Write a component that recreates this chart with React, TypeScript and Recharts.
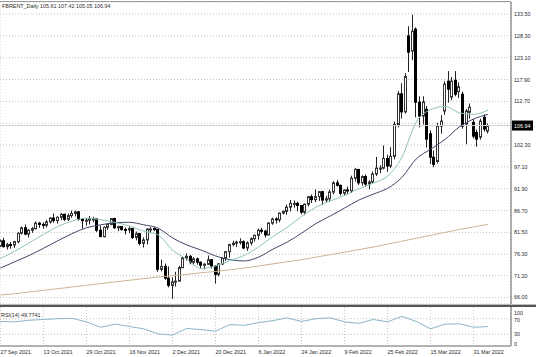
import React from "react";
import { ComposedChart, Bar, Line, XAxis, YAxis, CartesianGrid, ReferenceLine } from "recharts";

const symbol = "FBRENT_Daily";

// x axis labels (bar index -> date)
const dateTicks = [0, 12, 24, 36, 48, 60, 72, 84, 96, 108, 120, 132];
const dateLabels = [
  "27 Sep 2021", "13 Oct 2021", "29 Oct 2021", "16 Nov 2021", "2 Dec 2021", "20 Dec 2021",
  "6 Jan 2022", "24 Jan 2022", "9 Feb 2022", "25 Feb 2022", "15 Mar 2022", "31 Mar 2022",
];

// daily candles, 27 Sep 2021 .. 6 Apr 2022
const opens = [
  78.3, 79.5, 78.1, 78.6, 78.5, 79.3, 81.3, 82.6, 81.1, 82.0, 82.4, 83.7, 83.4, 83.2, 84.0, 84.9, 84.3, 85.1, 85.8, 84.6,
  85.5, 86.0, 86.4, 84.6, 84.3, 84.4, 84.5, 84.7, 82.0, 80.5, 82.7, 83.4, 84.8, 82.6, 82.9, 82.2, 82.1, 82.4, 80.3, 81.2,
  78.9, 79.7, 82.1, 82.4, 82.2, 72.7, 73.4, 70.6, 68.9, 69.7, 69.9, 73.1, 75.4, 75.8, 74.4, 75.2, 74.4, 73.7, 73.9, 75.0,
  73.5, 71.5, 74.0, 75.3, 76.9, 78.6, 78.9, 79.2, 79.3, 77.8, 79.0, 80.0, 80.8, 82.0, 81.8, 80.9, 83.7, 84.7, 84.5, 86.1,
  86.5, 87.5, 88.2, 88.4, 87.9, 86.3, 88.2, 90.0, 89.3, 90.0, 91.2, 89.2, 89.5, 91.1, 93.3, 92.7, 90.8, 91.6, 91.4, 94.4,
  96.5, 93.3, 94.8, 93.0, 93.5, 95.4, 96.6, 96.8, 99.1, 97.3, 99.6, 107.2, 114.5, 110.2, 128.3, 124.7, 129.9, 112.5, 109.2, 110.8,
  105.0, 99.4, 98.4, 106.8, 110.4, 117.5, 113.7, 117.7, 115.0, 114.4, 107.3, 110.1, 107.7, 105.3, 104.2, 108.9, 105.61,
];
const highs = [
  79.8, 80.2, 79.0, 79.2, 79.5, 81.5, 82.9, 83.4, 82.3, 82.8, 84.1, 84.0, 83.9, 84.5, 85.1, 86.0, 85.3, 86.1, 86.0, 86.0,
  86.7, 86.7, 86.5, 84.9, 84.9, 85.4, 85.2, 84.9, 83.1, 82.9, 83.6, 84.9, 85.0, 83.1, 83.0, 82.7, 82.9, 82.5, 81.7, 81.4,
  80.3, 82.5, 82.7, 82.7, 82.3, 75.0, 74.1, 73.4, 70.8, 72.1, 73.5, 75.7, 76.5, 76.1, 75.6, 75.5, 74.6, 74.2, 76.0, 75.1,
  73.6, 74.2, 75.6, 77.0, 78.8, 79.5, 79.5, 80.1, 79.6, 79.4, 80.3, 81.0, 82.4, 82.6, 82.1, 83.9, 85.0, 85.1, 86.2, 86.7,
  88.1, 89.2, 89.1, 88.8, 88.0, 88.4, 90.2, 90.5, 91.7, 91.3, 91.4, 90.2, 91.7, 93.7, 94.0, 92.9, 91.7, 92.4, 95.0, 96.8,
  96.6, 95.1, 95.3, 93.9, 96.0, 99.5, 97.5, 102.2, 100.0, 101.8, 107.9, 115.2, 117.0, 119.4, 130.6, 133.3, 130.3, 113.9, 113.9, 111.6,
  105.8, 101.0, 107.6, 109.4, 117.5, 119.9, 118.5, 119.9, 117.2, 115.0, 110.9, 112.2, 108.5, 106.0, 108.6, 109.6, 107.42,
];
const lows = [
  78.0, 77.9, 77.4, 77.6, 77.8, 78.9, 81.0, 80.8, 80.3, 81.4, 82.2, 82.6, 82.4, 82.7, 83.6, 83.8, 83.6, 84.4, 84.2, 84.2,
  85.0, 85.3, 84.3, 82.4, 83.1, 83.4, 83.9, 81.6, 80.4, 80.3, 82.1, 83.2, 82.3, 81.8, 81.9, 81.0, 81.3, 79.9, 79.6, 78.4,
  77.9, 78.6, 81.3, 81.8, 72.1, 72.2, 70.2, 68.4, 65.7, 68.6, 69.8, 73.0, 74.8, 73.9, 73.7, 73.8, 72.9, 72.7, 73.7, 72.9,
  69.3, 71.0, 73.7, 74.7, 75.5, 78.2, 78.0, 78.6, 77.5, 77.1, 78.4, 79.3, 79.8, 81.2, 80.3, 80.8, 83.3, 83.6, 83.9, 85.8,
  85.7, 86.5, 87.4, 86.5, 85.8, 85.6, 87.7, 88.5, 88.7, 89.0, 88.0, 88.6, 88.8, 90.6, 92.4, 90.3, 90.2, 90.6, 90.9, 93.6,
  92.8, 92.6, 92.4, 91.7, 93.1, 94.9, 95.6, 96.5, 95.9, 96.8, 98.9, 106.5, 108.6, 109.8, 119.7, 122.5, 108.9, 106.5, 107.2, 101.7,
  97.8, 97.0, 97.9, 105.0, 109.5, 112.4, 113.0, 113.9, 113.5, 106.2, 102.5, 108.6, 103.9, 101.9, 103.6, 105.5, 105.05,
];
const closes = [
  79.5, 78.1, 78.6, 78.5, 79.3, 81.3, 82.6, 81.1, 82.0, 82.4, 83.7, 83.4, 83.2, 84.0, 84.9, 84.3, 85.1, 85.8, 84.6, 85.5,
  86.0, 86.4, 84.6, 84.3, 84.4, 84.7, 84.7, 82.0, 80.5, 82.7, 83.4, 84.8, 82.6, 82.9, 82.2, 82.1, 82.4, 80.3, 81.2, 78.9,
  79.7, 82.3, 82.3, 82.2, 72.7, 73.4, 70.6, 68.9, 69.7, 69.9, 73.1, 75.4, 75.8, 74.4, 75.2, 74.4, 73.7, 73.9, 75.0, 73.5,
  71.5, 74.0, 75.3, 76.9, 78.6, 78.9, 79.2, 79.3, 77.8, 79.0, 80.0, 80.8, 82.0, 81.8, 80.9, 83.7, 84.7, 84.5, 86.1, 86.5,
  87.5, 88.4, 88.4, 87.9, 86.3, 88.2, 90.0, 89.3, 90.0, 91.2, 89.2, 89.5, 91.1, 93.3, 92.7, 90.8, 91.6, 91.4, 94.4, 96.5,
  93.3, 94.8, 93.0, 93.5, 95.4, 96.8, 96.8, 99.1, 97.3, 99.6, 107.2, 114.5, 110.2, 118.6, 124.4, 129.4, 112.5, 109.2, 112.6, 103.7,
  99.4, 97.7, 106.8, 108.0, 116.8, 115.6, 117.5, 114.4, 116.2, 106.8, 110.4, 111.3, 104.4, 103.7, 108.0, 106.1, 106.94,
];

// indicator readings, one value every MA_STEP bars (bar 0, 4, 8 ... 136)
const MA_STEP = 4;
const maFast = [
  75.3, 77.0, 79.0, 81.0, 82.9, 84.2, 84.9, 84.5, 83.9, 83.0, 81.8, 80.9, 77.3, 75.1, 72.9, 73.5, 74.8, 76.0,
  78.0, 80.5, 82.7, 85.3, 87.5, 89.0, 90.3, 91.9, 93.2, 94.9, 99.4, 107.8, 110.7, 111.5, 110.0, 109.6, 110.6,
];
const maSlow = [
  73.0, 74.5, 76.0, 77.7, 79.5, 81.2, 82.6, 83.3, 83.8, 83.9, 83.3, 82.5, 80.2, 78.5, 77.3, 75.9, 75.0, 74.7,
  75.6, 77.5, 79.2, 81.3, 83.6, 85.4, 87.3, 89.2, 90.6, 92.0, 94.6, 99.0, 101.3, 103.6, 106.6, 108.5, 109.6,
];
const ma200 = [
  66.6, 66.9, 67.3, 67.7, 68.1, 68.5, 68.9, 69.3, 69.7, 70.1, 70.5, 70.9, 71.2, 71.5, 71.9, 72.2, 72.6, 73.0,
  73.5, 74.0, 74.5, 75.0, 75.6, 76.2, 76.8, 77.4, 78.0, 78.7, 79.4, 80.1, 80.8, 81.5, 82.2, 82.8, 83.4,
];
const rsi14 = [
  63, 62, 66, 68, 70, 71, 62, 48, 56, 50, 44, 31, 28, 45, 42, 38, 55, 53,
  60, 65, 72, 63, 70, 72, 62, 58, 68, 62, 76, 63, 44, 56, 57, 48, 49.7741,
];

const priceTicks = [66.0, 71.2, 76.3, 81.5, 86.7, 91.9, 97.1, 102.3, 107.5, 112.7, 117.9, 123.1, 128.3, 133.5];
const coveredTick = 107.5;
const rsiTicks = [0, 30, 70, 100];

const last = closes.length - 1;
const lastClose = closes[last];

const rows = opens.map((o, i) => {
  const k = i % MA_STEP === 0 ? i / MA_STEP : -1;
  return {
    i,
    range: [lows[i], highs[i]],
    open: o,
    high: highs[i],
    low: lows[i],
    close: closes[i],
    fast: k >= 0 ? maFast[k] : null,
    slow: k >= 0 ? maSlow[k] : null,
    long: k >= 0 ? ma200[k] : null,
    rsi: k >= 0 ? rsi14[k] : null,
  };
});

const FONT = "'Liberation Sans', Arial, sans-serif";
const FS = 5.4;
const TEXT = "#2b2b2b";
const X_DOMAIN = [-0.11, 142.43];

const Candle = (props: any) => {
  const { x, y, width, height, payload } = props;
  if (!payload || x == null) return <g />;
  const { open, close, high, low } = payload;
  const top = Math.min(y, y + height);
  const h = Math.abs(height);
  const toY = (v: number) => (high === low ? top : top + ((high - v) / (high - low)) * h);
  const px = Math.floor(x + width / 2);
  const yo = toY(open);
  const yc = toY(close);
  const bTop = Math.min(yo, yc);
  const bH = Math.max(Math.abs(yc - yo), 1);
  const up = close >= open;
  return (
    <g>
      <line x1={px + 0.5} x2={px + 0.5} y1={top} y2={top + h} stroke="#222" strokeWidth={1} />
      {up ? (
        <rect x={px - 0.5} y={bTop} width={2} height={bH} fill="#fff" stroke="#333" strokeWidth={1} />
      ) : (
        <rect x={px - 1} y={bTop - 0.5} width={3} height={bH + 1} fill="#000" />
      )}
    </g>
  );
};

const PriceTick = (props: any) => {
  const { x, y, payload } = props;
  const v = payload.value;
  if (v === coveredTick) return <g />;
  if (v === lastClose) {
    return (
      <g>
        <rect x={x + 1} y={y - 5} width={21} height={10} fill="#000" />
        <text x={x + 3} y={y + 2} fontSize={FS} fontFamily={FONT} fill="#fff">
          {v.toFixed(2)}
        </text>
      </g>
    );
  }
  return (
    <text x={x + 3} y={y + 2} fontSize={FS} fontFamily={FONT} fill={TEXT}>
      {v.toFixed(2)}
    </text>
  );
};

const RsiTick = (props: any) => {
  const { x, y, payload } = props;
  const v = payload.value;
  const shift = v === 100 ? 5.5 : v === 0 ? -2.5 : v === 70 ? 1.5 : 0;
  return (
    <text x={x + 3} y={y + 2 + shift} fontSize={FS} fontFamily={FONT} fill={TEXT}>
      {v}
    </text>
  );
};

const DateTick = (props: any) => {
  const { x, y, payload } = props;
  const k = dateTicks.indexOf(payload.value);
  return (
    <text x={x} y={y + 7.7} fontSize={FS} fontFamily={FONT} fill={TEXT} textAnchor="start">
      {dateLabels[k]}
    </text>
  );
};

export default function App() {
  return (
    <div style={{ position: "absolute", left: 0, top: 0, width: 536, height: 357, background: "#fff", overflow: "hidden" }}>
      <div style={{ position: "absolute", left: 0, top: 0 }}>
        <ComposedChart width={536} height={304} data={rows} margin={{ top: 2, right: 0, bottom: 0, left: 0 }}>
          <CartesianGrid stroke="#c4c4c4" strokeDasharray="1 2" />
          <XAxis
            dataKey="i"
            type="number"
            domain={X_DOMAIN}
            allowDataOverflow
            ticks={dateTicks}
            height={0}
            tick={false}
            axisLine={false}
            tickLine={false}
          />
          <YAxis
            orientation="right"
            width={25}
            type="number"
            domain={[64.45, 136.357]}
            allowDataOverflow
            ticks={[...priceTicks, lastClose]}
            interval={0}
            tick={PriceTick}
            tickSize={0}
            tickMargin={0}
            tickLine={false}
            axisLine={{ stroke: "#666" }}
          />
          <ReferenceLine y={lastClose} stroke="#d2d2d2" strokeWidth={1} ifOverflow="hidden" />
          <Line type="monotone" dataKey="long" stroke="#cbb692" strokeWidth={1} dot={false} connectNulls isAnimationActive={false} />
          <Line type="monotone" dataKey="slow" stroke="#45456a" strokeWidth={1} dot={false} connectNulls isAnimationActive={false} />
          <Line type="monotone" dataKey="fast" stroke="#8fc3b7" strokeWidth={1} dot={false} connectNulls isAnimationActive={false} />
          <Bar dataKey="range" barSize={3} shape={Candle} isAnimationActive={false} />
        </ComposedChart>
      </div>

      <div style={{ position: "absolute", left: 0, top: 1, width: 511, height: 1, background: "#9a9a9a" }} />
      <div style={{ position: "absolute", left: 0, top: 304, width: 536, height: 1, background: "#bdbdbd" }} />
      <div style={{ position: "absolute", left: 0, top: 305, width: 536, height: 2, background: "#555" }} />

      <div style={{ position: "absolute", left: 0, top: 306 }}>
        <ComposedChart width={536} height={51} data={rows} margin={{ top: 1, right: 0, bottom: 0, left: 0 }}>
          <CartesianGrid stroke="#c4c4c4" strokeDasharray="1 2" horizontalValues={[30, 70]} />
          <XAxis
            dataKey="i"
            type="number"
            domain={X_DOMAIN}
            allowDataOverflow
            ticks={dateTicks}
            interval={0}
            height={11}
            tick={DateTick}
            tickSize={0}
            tickMargin={0}
            tickLine={false}
            axisLine={{ stroke: "#666" }}
          />
          <YAxis
            orientation="right"
            width={25}
            type="number"
            domain={[0, 100]}
            ticks={rsiTicks}
            interval={0}
            tick={RsiTick}
            tickSize={0}
            tickMargin={0}
            tickLine={false}
            axisLine={{ stroke: "#666" }}
          />
          <Line type="linear" dataKey="rsi" stroke="#8ab4c8" strokeWidth={1} dot={false} connectNulls isAnimationActive={false} />
        </ComposedChart>
      </div>

      <svg width={536} height={357} style={{ position: "absolute", left: 0, top: 0, pointerEvents: "none" }}>
        <text x={2} y={8} fontSize={FS} fontFamily={FONT} fill={TEXT}>
          {`${symbol} ${opens[last].toFixed(2)} ${highs[last].toFixed(2)} ${lows[last].toFixed(2)} ${closes[last].toFixed(2)}`}
        </text>
        <text x={1} y={317} fontSize={FS} fontFamily={FONT} fill={TEXT}>
          {`RSI(14) ${rsi14[rsi14.length - 1].toFixed(4)}`}
        </text>
      </svg>
    </div>
  );
}
